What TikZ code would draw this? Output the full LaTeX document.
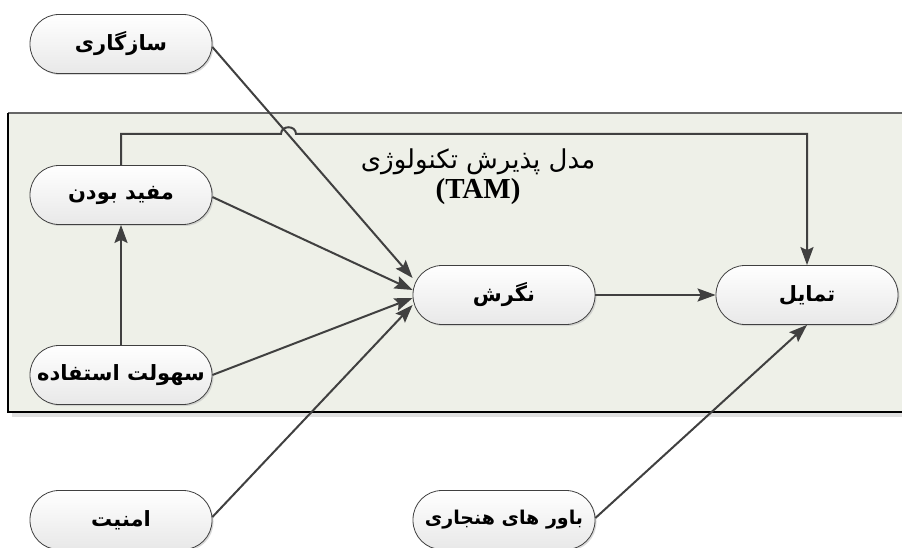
\documentclass[tikz,border=0pt]{standalone}
\usepackage{fontspec}
\usetikzlibrary{arrows.meta,calc,shadows}
\TeXXeTstate=1
\newfontfamily\fa[Script=Arabic]{DejaVu Sans}
\newfontfamily\tms{Liberation Serif}
\definecolor{bgfill}{RGB}{238,240,232}
\definecolor{ln}{RGB}{64,64,64}
\tikzset{
  pill/.style={draw=ln, line width=0.8pt, rectangle, rounded corners=29pt,
    minimum width=182pt, minimum height=59pt, inner sep=0pt,
    top color=white, bottom color=black!9,
    drop shadow={shadow xshift=1.5pt, shadow yshift=-1.5pt, fill=black!25, opacity=0.6},
    font=\fa\bfseries\fontsize{21}{25}\selectfont},
  conn/.style={draw=ln, line width=2pt, -{Stealth[length=18pt,width=13pt,inset=3pt]}},
}
\begin{document}
\begin{tikzpicture}[x=1pt,y=-1pt]
\useasboundingbox (0,0) rectangle (902,548);
% background panel
\fill[black!12] (12,412) rectangle (902,417);
\fill[bgfill] (8,113) rectangle (902,412);
\draw[black!60, line width=1.2pt] (8,113) -- (902,113);
\draw[black, line width=1.2pt] (8,113) -- (8,412) -- (902,412);
% title
\node[font=\fa\fontsize{26}{30}\selectfont] (title1) at (478,162) {\beginR مدل پذیرش تکنولوژی\endR};
\node[font=\tms\bfseries\fontsize{29}{32}\selectfont] (title2) at (478,192) {(TAM)};
% nodes
\node[pill] (sazgari) at (121,44) {\beginR سازگاری\endR};
\node[pill] (mofid) at (121,195) {\beginR مفید بودن\endR};
\node[pill] (sohoolat) at (121,375) {\beginR سهولت استفاده\endR};
\node[pill] (amniat) at (121,520) {\beginR امنیت\endR};
\node[pill] (negaresh) at (504,295) {\beginR نگرش\endR};
\node[pill] (tamayol) at (807,295) {\beginR تمایل\endR};
\node[pill, font=\fa\bfseries\fontsize{19}{22}\selectfont] (bavar) at (504,520) {\beginR باور های هنجاری\endR};
% feedback line with jump
\coordinate (j1) at (281,134);
\coordinate (j2) at (296,134);
\draw[conn] (mofid.north) -- (mofid.north |- j1) -- (j1) .. controls (281,125) and (296,125) .. (j2) -- (tamayol.north |- j2) -- (tamayol.north);
% connectors
\draw[conn] ([yshift=-3pt]sazgari.east) -- ([yshift=17pt]negaresh.west);
\draw[conn] ([yshift=-2pt]mofid.east) -- ([yshift=5pt]negaresh.west);
\draw[conn] (sohoolat.east) -- ([yshift=-3pt]negaresh.west);
\draw[conn] ([yshift=3pt]amniat.east) -- ([yshift=-10pt]negaresh.west);
\draw[conn] (sohoolat.north) -- (mofid.south);
\draw[conn] (negaresh.east) -- (tamayol.west);
\draw[conn] ([yshift=2pt]bavar.east) -- (tamayol.south);
\end{tikzpicture}
\end{document}
